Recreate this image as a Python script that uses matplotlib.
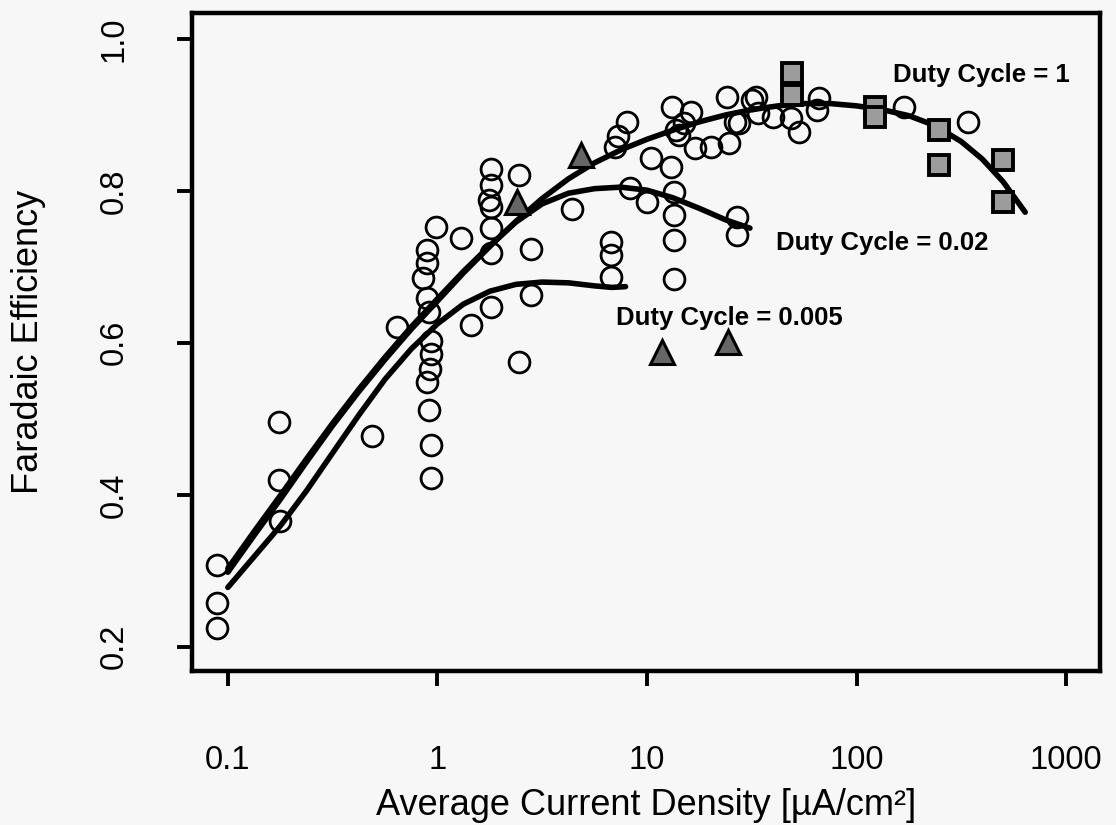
import numpy as np
import matplotlib
matplotlib.use("Agg")
import matplotlib.pyplot as plt

plt.rcParams['font.family'] = ['Liberation Sans', 'DejaVu Sans']

# open circles (all measurements)
circ_x = [0.089, 0.089, 0.089, 0.175, 0.175, 0.177, 0.49,
          0.89, 0.89, 0.85, 0.89, 0.91, 0.93, 0.93, 0.92, 0.89, 0.916, 0.93, 0.93,
          0.98, 1.30, 0.64, 1.44, 1.81, 2.45, 2.81, 2.81,
          1.81, 1.81, 1.76, 1.81, 1.81, 1.81,
          2.45, 4.39, 6.75, 6.75, 6.75,
          7.0, 7.3, 8.0, 10.4, 13.0, 8.3, 10.0, 13.4, 13.4, 13.4, 13.4,
          26.8, 26.8,
          13.2, 16.2, 14.2, 15.0, 13.8, 16.9, 20.2, 24.1, 24.6, 26.4, 27.5,
          31.6, 33.0, 34.0, 40.0, 48.5, 53.0, 66.0, 65.0, 169.0, 341.0]
circ_y = [0.308, 0.258, 0.224, 0.496, 0.420, 0.366, 0.478,
          0.722, 0.705, 0.686, 0.659, 0.641, 0.602, 0.585, 0.565, 0.549, 0.512, 0.466, 0.422,
          0.753, 0.738, 0.621, 0.624, 0.647, 0.575, 0.724, 0.663,
          0.829, 0.808, 0.788, 0.779, 0.751, 0.718,
          0.821, 0.776, 0.733, 0.716, 0.687,
          0.858, 0.872, 0.891, 0.843, 0.832, 0.804, 0.786, 0.799, 0.768, 0.736, 0.684,
          0.766, 0.742,
          0.911, 0.904, 0.874, 0.889, 0.880, 0.857, 0.858, 0.924, 0.863, 0.891, 0.889,
          0.920, 0.924, 0.903, 0.897, 0.896, 0.878, 0.922, 0.907, 0.911, 0.891]

# shaded squares
sq_x = [49, 49, 122, 122, 248, 248, 500, 500]
sq_y = [0.955, 0.926, 0.910, 0.897, 0.880, 0.834, 0.841, 0.786]

# shaded triangles
tri_x = [2.40, 4.85, 11.8, 24.3]
tri_y = [0.786, 0.847, 0.588, 0.601]

# fitted curves
dc1_x = [0.1, 0.133, 0.178, 0.237, 0.316, 0.422, 0.562, 0.75, 1.0, 1.33, 1.78, 2.37,
         3.16, 4.22, 5.62, 7.5, 10, 13.3, 17.8, 23.7, 31.6, 42.2, 56.2, 75,
         100, 133, 178, 237, 316, 398, 501, 638]
dc1_y = [0.298, 0.346, 0.394, 0.443, 0.491, 0.536, 0.578, 0.618, 0.655, 0.692, 0.727, 0.760,
         0.790, 0.816, 0.837, 0.854, 0.868, 0.880, 0.891, 0.900, 0.907, 0.912, 0.915, 0.915,
         0.912, 0.907, 0.899, 0.886, 0.865, 0.842, 0.812, 0.772]

dc002_x = [0.1, 0.133, 0.178, 0.237, 0.316, 0.422, 0.562, 0.75, 1.0, 1.33, 1.78, 2.37,
           3.16, 4.22, 5.62, 7.5, 10, 13.3, 17.8, 23.7, 31]
dc002_y = [0.303, 0.351, 0.399, 0.447, 0.494, 0.539, 0.581, 0.621, 0.658, 0.694, 0.728, 0.759,
           0.783, 0.797, 0.803, 0.805, 0.801, 0.791, 0.777, 0.762, 0.751]

dc0005_x = [0.1, 0.133, 0.178, 0.237, 0.316, 0.422, 0.562, 0.75, 1.0, 1.33, 1.78, 2.37,
            3.16, 4.22, 5.62, 6.8, 7.9]
dc0005_y = [0.278, 0.318, 0.359, 0.405, 0.455, 0.505, 0.552, 0.592, 0.625, 0.651, 0.668, 0.677,
            0.680, 0.679, 0.675, 0.673, 0.674]

labels = ["Duty Cycle = 1", "Duty Cycle = 0.02", "Duty Cycle = 0.005"]
label_x = [150, 41.1, 7.11]
label_y = [0.953, 0.732, 0.633]

xticks = [0.1, 1, 10, 100, 1000]
xticklabels = ["0.1", "1", "10", "100", "1000"]
yticks = [0.2, 0.4, 0.6, 0.8, 1.0]
yticklabels = ["0.2", "0.4", "0.6", "0.8", "1.0"]

bg = '#f7f7f7'
fig = plt.figure(figsize=(11.16, 8.25), dpi=100, facecolor=bg)
ax = fig.add_axes([0.172, 0.1867, 0.8137, 0.7973], facecolor=bg)

for cx, cy in [(dc1_x, dc1_y), (dc002_x, dc002_y), (dc0005_x, dc0005_y)]:
    ax.plot(cx, cy, color='black', lw=4, solid_capstyle='round',
            solid_joinstyle='round', zorder=2)

ax.plot(circ_x, circ_y, 'o', ms=15, mfc='none', mec='black', mew=2.0, zorder=3)
ax.plot(sq_x, sq_y, 's', ms=14, mfc='#9c9c9c', mec='black', mew=2.8, zorder=4)
ax.plot(tri_x, tri_y, '^', ms=17, mfc='#666666', mec='black', mew=2.2, zorder=4)

for t, lx, ly in zip(labels, label_x, label_y):
    ax.text(lx, ly, t, fontsize=18.5, fontweight='bold', ha='left', va='center', zorder=5)

ax.set_xscale('log')
ax.set_xlim(0.0674, 1452)
ax.set_ylim(0.168, 1.034)
ax.set_xticks(xticks)
ax.set_xticklabels(xticklabels)
ax.minorticks_off()
ax.set_yticks(yticks)
ax.set_yticklabels(yticklabels, rotation=90, va='center')

ax.tick_params(axis='both', direction='out', length=11, width=2.8, labelsize=23.5)
ax.tick_params(axis='x', pad=42)
ax.tick_params(axis='y', pad=34)
for s in ax.spines.values():
    s.set_linewidth(3.2)

ax.set_xlabel('Average Current Density [µA/cm²]', fontsize=26, labelpad=9)
ax.set_ylabel('Faradaic Efficiency', fontsize=26, labelpad=38)

fig.savefig('out.png', dpi=100, facecolor=bg)
